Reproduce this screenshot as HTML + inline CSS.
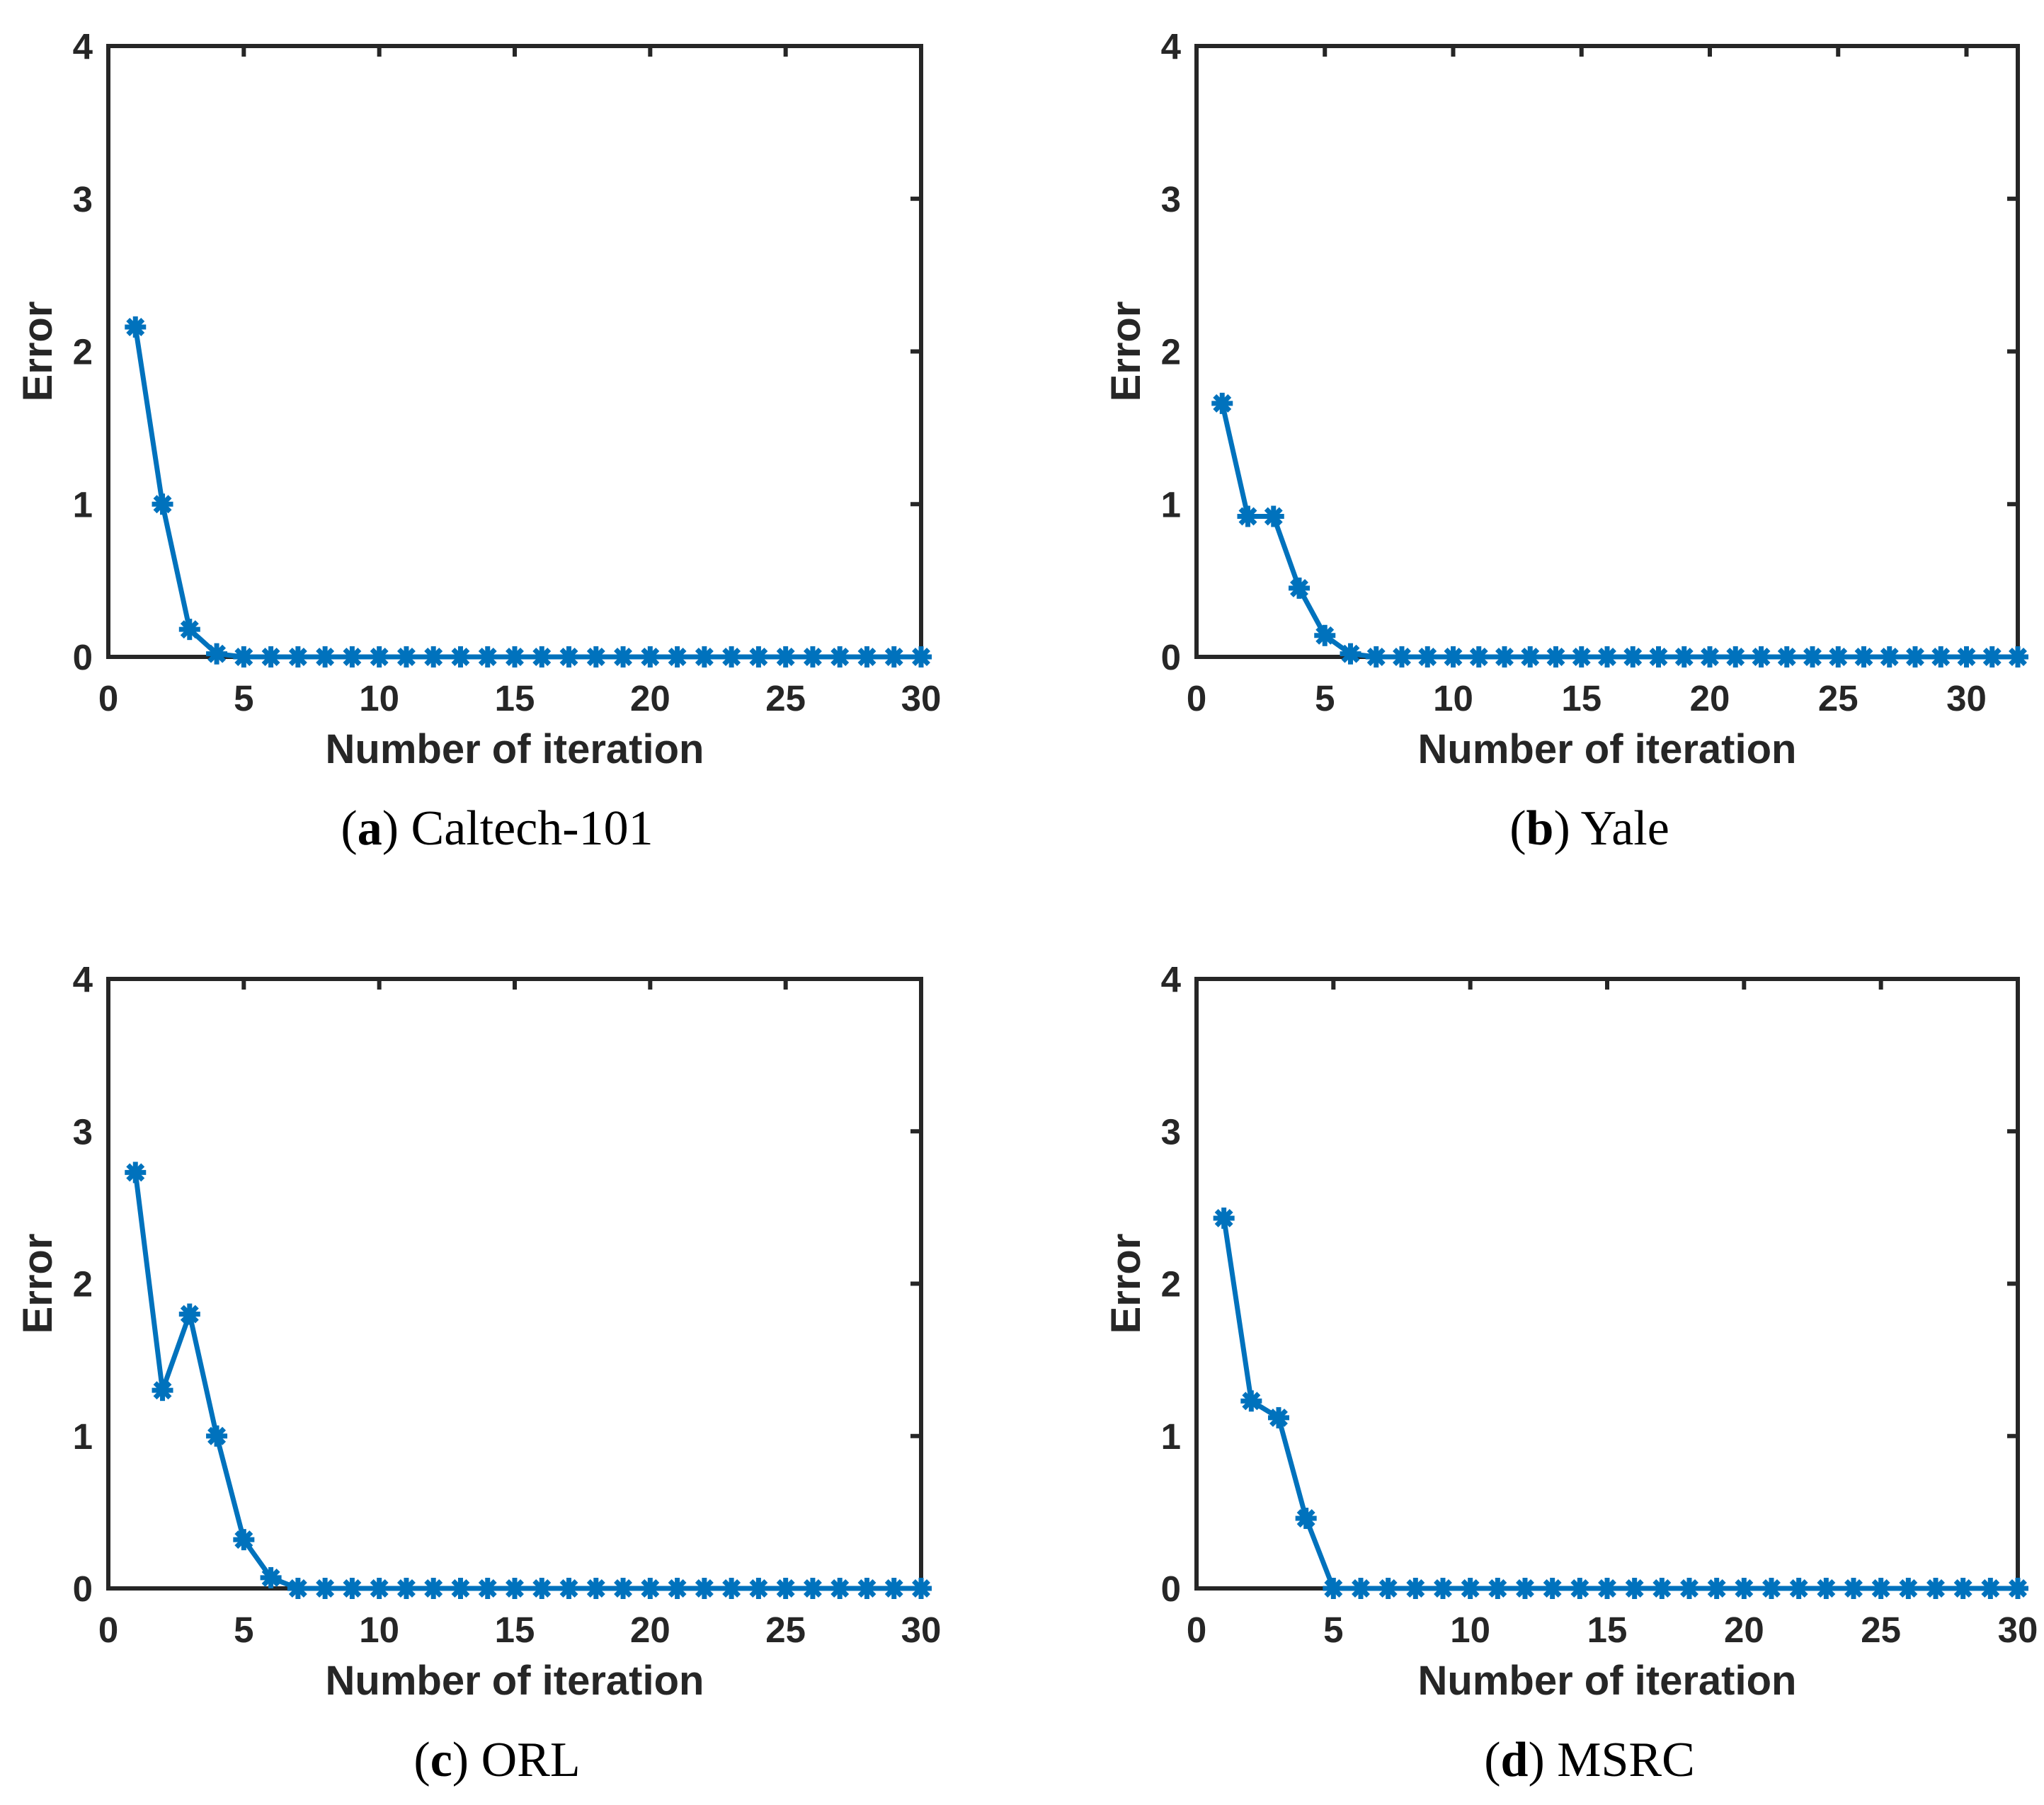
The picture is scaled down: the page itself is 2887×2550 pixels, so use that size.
<!DOCTYPE html>
<html><head><meta charset="utf-8">
<style>
html,body{margin:0;padding:0;background:#fff;}
svg{display:block;}
.tick{font-family:"Liberation Sans",Arial,sans-serif;font-weight:bold;font-size:51px;fill:#262626;}
.lab{font-family:"Liberation Sans",Arial,sans-serif;font-weight:bold;font-size:58px;fill:#262626;}
.cap{font-family:"Liberation Serif","DejaVu Serif",serif;font-size:70px;fill:#000;}
</style></head>
<body>
<svg id="fig" width="2887" height="2550" viewBox="0 0 2887 2550" xmlns="http://www.w3.org/2000/svg"></svg>
<script>
const zeros = n => Array(n).fill(0);
const caltechValues = [2.16,1.0,0.18,0.02].concat(zeros(26));
const yaleValues = [1.66,0.92,0.92,0.45,0.14,0.02].concat(zeros(26));
const orlValues = [2.73,1.3,1.8,1.0,0.32,0.07].concat(zeros(24));
const msrcValues = [2.43,1.23,1.12,0.46].concat(zeros(26));
const xTickLabels = [0,5,10,15,20,25,30];
const yTickLabels = [0,1,2,3,4];
const panelTitles = ["Caltech-101","Yale","ORL","MSRC"];
const panelLetters = ["a","b","c","d"];
const xMaxes = [30,32,30,30];

const NS = "http://www.w3.org/2000/svg";
const svg = document.getElementById("fig");
function mk(tag, attrs, parent){
  const e = document.createElementNS(NS, tag);
  for (const k in attrs) e.setAttribute(k, attrs[k]);
  (parent||svg).appendChild(e);
  return e;
}
const panels = [
  {L:153,R:1301,T:65,B:928,data:caltechValues,capY:1193},
  {L:1690,R:2850,T:65,B:928,data:yaleValues,capY:1193},
  {L:153,R:1301,T:1383,B:2244,data:orlValues,capY:2509},
  {L:1690,R:2850,T:1383,B:2244,data:msrcValues,capY:2509}
];
const AX="#262626", LC="#0072BD";
panels.forEach((p,i)=>{
  const g = mk("g",{});
  
  
  const xmax = xMaxes[i];
  const xs = v => p.L + (v/xmax)*(p.R-p.L);
  const ys = v => p.B - (v/4)*(p.B-p.T);
  const box = mk("rect",{x:p.L,y:p.T,width:p.R-p.L,height:p.B-p.T,fill:"none",stroke:AX,"stroke-width":6},g);
  
  
  xTickLabels.forEach(t=>{
    const x = xs(t);
    if (t>0 && t<xmax) mk("line",{x1:x,x2:x,y1:p.T,y2:p.T+15,stroke:AX,"stroke-width":6},g);
    const tx = mk("text",{x:x,y:p.B+76,"text-anchor":"middle",class:"tick"},g);
    tx.textContent = t;
    
    
  });
  yTickLabels.forEach(t=>{
    const y = ys(t);
    if (t>0 && t<4) mk("line",{x1:p.R-15,x2:p.R,y1:y,y2:y,stroke:AX,"stroke-width":6},g);
    const ty = mk("text",{x:p.L-22,y:y+18,"text-anchor":"end",class:"tick"},g);
    ty.textContent = t;
    
    
  });
  const pts = p.data.map((v,k)=>xs(k+1).toFixed(1)+","+ys(v).toFixed(1)).join(" ");
  const pl = mk("polyline",{points:pts,fill:"none",stroke:LC,"stroke-width":7,"stroke-linejoin":"round"},g);
  
  
  p.data.forEach((v,k)=>{
    const cx = xs(k+1), cy = ys(v), r = 15;
    const m = mk("g",{stroke:LC,"stroke-width":7},g);
    
    
    mk("line",{x1:cx-r,x2:cx+r,y1:cy,y2:cy},m);
    mk("line",{x1:cx,x2:cx,y1:cy-r,y2:cy+r},m);
    mk("line",{x1:cx-r*0.7,x2:cx+r*0.7,y1:cy-r*0.7,y2:cy+r*0.7},m);
    mk("line",{x1:cx-r*0.7,x2:cx+r*0.7,y1:cy+r*0.7,y2:cy-r*0.7},m);
  });
  const cxm = (p.L+p.R)/2;
  const xl = mk("text",{x:cxm,y:p.B+150,"text-anchor":"middle",class:"lab"},g);
  xl.textContent = "Number of iteration";
  
  
  const ylx = p.L-80, yly = (p.T+p.B)/2;
  const yl = mk("text",{x:ylx,y:yly,"text-anchor":"middle",class:"lab",transform:`rotate(-90 ${ylx} ${yly})`},g);
  yl.textContent = "Error";
  
  
  const cap = mk("text",{x:cxm-25,y:p.capY,"text-anchor":"middle",class:"cap"},g);
  
  
  const t1 = mk("tspan",{},cap); t1.textContent="(";
  const t2 = mk("tspan",{"font-weight":"bold"},cap); t2.textContent=panelLetters[i];
  const t3 = mk("tspan",{},cap); t3.textContent=") "+panelTitles[i];
});
</script>
</body></html>
